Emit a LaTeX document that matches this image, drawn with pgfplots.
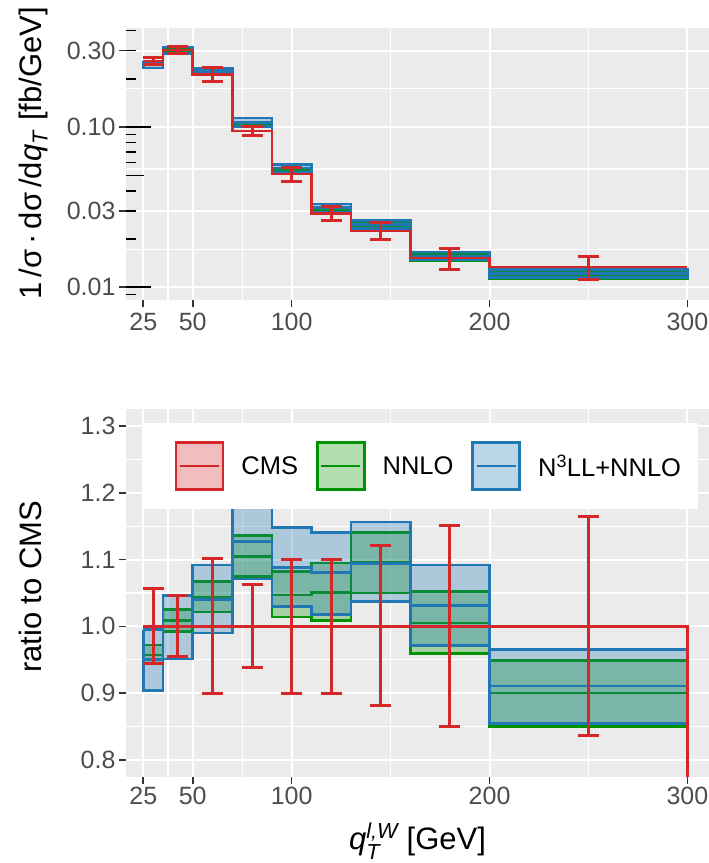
\documentclass[border=0pt]{standalone}
\usepackage{fontspec}
\setmainfont{Liberation Sans}
\usepackage{amsmath}
\usepackage{pgfplots}
\usepackage{pgfplotstable}
\pgfplotsset{compat=1.18}

\definecolor{cmsred}{RGB}{214,39,40}
\definecolor{nnlogreen}{RGB}{0,146,0}
\definecolor{nthreeblue}{RGB}{31,120,180}
\definecolor{panelbg}{RGB}{235,235,235}
\definecolor{tickgrey}{RGB}{51,51,51}
\definecolor{labelgrey}{RGB}{77,77,77}

% ---- upper panel: 1/sigma dsigma/dqT, steps given by left bin edge ----
\pgfplotstableread{
x    cms     nnlo     nthree
25   0.259   0.2479   0.2461
35   0.303   0.3056   0.3030
50   0.2135  0.2229   0.2220
70   0.0945  0.1044   0.1065
90   0.051   0.0534   0.0555
110  0.029   0.03048  0.03135
130  0.0225  0.02466  0.02462
160  0.0152  0.01528  0.01567
200  0.0134  0.01206  0.01221
300  0.0134  0.01206  0.01221
}\steptop

\pgfplotstableread{
xc    y       lo       hi
30    0.259   0.2445   0.2738
42.5  0.303   0.2894   0.3169
60    0.2135  0.1919   0.2353
80    0.0945  0.0887   0.1004
100   0.051   0.0459   0.0561
120   0.029   0.0261   0.0319
145   0.0225  0.01982  0.02522
180   0.0152  0.01292  0.0175
250   0.0134  0.01122  0.01561
}\cmserrtop

% scale bands: upper edge left to right, lower edge right to left
\pgfplotstableread{
x    nnlo     nthree
25   0.2517   0.2577
35   0.3106   0.3169
50   0.2278   0.2331
70   0.1073   0.1143
90   0.0552   0.0585
110  0.03176  0.03309
130  0.02567  0.02601
160  0.01599  0.0166
200  0.01272  0.01293
300  0.01272  0.01293
300  0.01139  0.01146
200  0.01458  0.01476
160  0.02363  0.02333
130  0.02926  0.02951
110  0.0517   0.0525
90   0.1016   0.1012
70   0.2181   0.2114
50   0.3007   0.2882
35   0.2445   0.2341
25   0.2445   0.2341
25   0.2517   0.2577
}\bandtop

% ---- lower panel: ratio to CMS ----
\pgfplotstableread{
x    cms  nnlo    nthree
25   1    0.957   0.950
35   1    1.0085  1.000
50   1    1.044   1.040
70   1    1.105   1.127
90   1    1.047   1.088
110  1    1.051   1.081
130  1    1.096   1.094
160  1    1.005   1.031
200  1    0.9003  0.911
300  0    0.9003  0.911
}\steprat

\pgfplotstableread{
xc    y   lo      hi
30    1   0.944   1.057
42.5  1   0.955   1.046
60    1   0.899   1.102
80    1   0.939   1.062
100   1   0.900   1.100
120   1   0.900   1.100
145   1   0.881   1.121
180   1   0.850   1.151
250   1   0.837   1.165
}\cmserrrat

\pgfplotstableread{
x    nnlo    nthree
25   0.972   0.995
35   1.025   1.046
50   1.067   1.092
70   1.1357  1.210
90   1.082   1.148
110  1.095   1.141
130  1.141   1.156
160  1.052   1.092
200  0.949   0.965
300  0.949   0.965
300  0.850   0.855
200  0.959   0.971
160  1.050   1.037
130  1.009   1.0175
110  1.014   1.030
90   1.075   1.071
70   1.0215  0.990
50   0.9925  0.951
35   0.944   0.9037
25   0.944   0.9037
25   0.972   0.995
}\bandrat

\tikzset{logtick/.style={black, line width=1.6pt}}

\pgfplotsset{
  gg/.style={
    scale only axis, width=583pt,
    xmin=16.27, xmax=310.9,
    axis background/.style={fill=panelbg},
    axis line style={draw=none},
    grid=both,
    major grid style={white, line width=2.1pt},
    minor grid style={white, line width=1.1pt},
    tick align=outside,
    major tick length=7pt,
    minor tick length=0pt,
    tick style={draw=tickgrey, line width=1.6pt},
    xtick pos=left, ytick pos=left,
    xtick={25,50,100,200,300},
    minor xtick={37.5,75,150,250},
    ticklabel style={font=\fontsize{25}{30}\selectfont, text=labelgrey},
    /pgf/number format/assume math mode=true,
    label style={font=\fontsize{31}{36}\selectfont},
  },
  band/.style={const plot mark left, draw=#1, line width=2.6pt, fill=#1, fill opacity=0.3, forget plot},
  stepline/.style={const plot mark left, draw=#1, line width=2.6pt, forget plot},
  cmserr/.style={draw=none, mark=none, forget plot,
    error bars/.cd, y dir=both, y explicit,
    error bar style={draw=cmsred, line width=3pt},
    error mark options={draw=cmsred, line width=3pt, mark size=10.5pt, rotate=90}},
}

\begin{document}
\begin{tikzpicture}
\path[use as bounding box] (0pt,0pt) rectangle (709pt,863pt);

\begin{axis}[gg,
  at={(126pt,563pt)}, anchor=south west, height=271.7pt,
  ymode=log, ymin=0.008329, ymax=0.4139,
  ytick={0.01,0.03,0.1,0.3},
  yticklabels={0.01,0.03,0.10,0.30},
  minor ytick={0.01732,0.05477,0.1732},
  xticklabel style={yshift=-3pt},
  ylabel={1\,/σ\,·\,dσ\,/d\textit{q}\textsubscript{\textit{T}} [fb/GeV]},
  ylabel style={at={(axis description cs:-0.159,0.539)}, anchor=center},
]
\addplot[band=nnlogreen] table[x=x, y=nnlo] {\bandtop};
\addplot[stepline=nnlogreen] table[x=x, y=nnlo] {\steptop};
\addplot[band=nthreeblue] table[x=x, y=nthree] {\bandtop};
\addplot[stepline=nthreeblue] table[x=x, y=nthree] {\steptop};
\addplot[stepline=cmsred] table[x=x, y=cms] {\steptop};
\addplot[cmserr] table[x=xc, y=y,
  y error plus expr=\thisrow{hi}-\thisrow{y},
  y error minus expr=\thisrow{y}-\thisrow{lo}] {\cmserrtop};

% annotation log ticks on the left edge
\pgfplotsinvokeforeach{0.009,0.02,0.03,0.04,0.06,0.07,0.08,0.09,0.2,0.3,0.4}{
  \draw[logtick] (axis cs:16.27,#1) -- ++(10pt,0pt);}
\draw[logtick] (axis cs:16.27,0.05) -- ++(18pt,0pt);
\draw[logtick] (axis cs:16.27,0.01) -- ++(25pt,0pt);
\draw[logtick] (axis cs:16.27,0.1) -- ++(25pt,0pt);
\end{axis}

\begin{axis}[gg,
  at={(126pt,86.3pt)}, anchor=south west, height=367.4pt,
  ymin=0.775, ymax=1.325,
  ytick={0.8,0.9,1.0,1.1,1.2,1.3},
  yticklabels={0.8,0.9,1.0,1.1,1.2,1.3},
  minor ytick={0.85,0.95,1.05,1.15,1.25},
  ylabel={ratio to CMS},
  ylabel style={at={(axis description cs:-0.164,0.517)}, anchor=center},
  xlabel={$\textit{q}_{\textit{T}}^{\textit{l,W}}$ [GeV]},
  xlabel style={at={(axis description cs:0.5,-0.175)}, anchor=center},
  legend columns=3,
  legend cell align=left,
  legend style={at={(axis description cs:0.0269,0.9619)}, anchor=north west,
    draw=none, fill=white, inner xsep=17pt, inner ysep=17.5pt,
    font=\fontsize{25.5}{30}\selectfont,
    nodes={inner sep=0pt},
    /tikz/every odd column/.append style={column sep=17pt},
    /tikz/every even column/.append style={column sep=18pt}},
]
\addplot[band=nnlogreen] table[x=x, y=nnlo] {\bandrat};
\addplot[stepline=nnlogreen] table[x=x, y=nnlo] {\steprat};
\addplot[band=nthreeblue] table[x=x, y=nthree] {\bandrat};
\addplot[stepline=nthreeblue] table[x=x, y=nthree] {\steprat};
\addplot[stepline=cmsred] table[x=x, y=cms] {\steprat};
\addplot[cmserr] table[x=xc, y=y,
  y error plus expr=\thisrow{hi}-\thisrow{y},
  y error minus expr=\thisrow{y}-\thisrow{lo}] {\cmserrrat};

\addlegendimage{legend image code/.code={
  \path (-17pt,0pt);
  \draw[draw=cmsred, line width=2.6pt, fill=cmsred, fill opacity=0.3] (0pt,-23pt) rectangle (47pt,24.5pt);
  \draw[cmsred, line width=2.6pt] (4pt,0.8pt) -- (43pt,0.8pt);}}
\addlegendentry{CMS}
\addlegendimage{legend image code/.code={
  \draw[draw=nnlogreen, line width=2.6pt, fill=nnlogreen, fill opacity=0.3] (0pt,-23pt) rectangle (47pt,24.5pt);
  \draw[nnlogreen, line width=2.6pt] (4pt,0.8pt) -- (43pt,0.8pt);}}
\addlegendentry{NNLO}
\addlegendimage{legend image code/.code={
  \draw[draw=nthreeblue, line width=2.6pt, fill=nthreeblue, fill opacity=0.3] (0pt,-23pt) rectangle (47pt,24.5pt);
  \draw[nthreeblue, line width=2.6pt] (4pt,0.8pt) -- (43pt,0.8pt);}}
\addlegendentry{N\textsuperscript{3}LL+NNLO}
\end{axis}
\end{tikzpicture}
\end{document}
